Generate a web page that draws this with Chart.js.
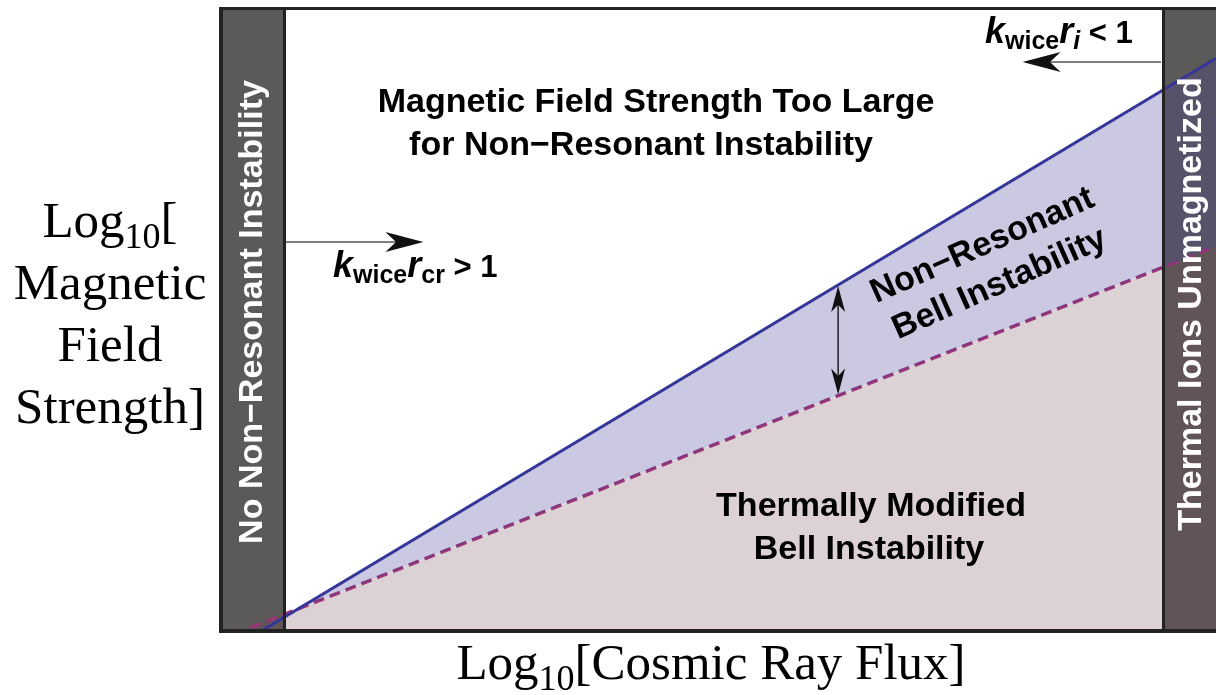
<!DOCTYPE html>
<html>
<head>
<meta charset="utf-8">
<script src="https://cdn.jsdelivr.net/npm/chart.js@4.4.1/dist/chart.umd.min.js"></script>
<style>
  html, body { margin: 0; padding: 0; background: #fff; }
  canvas { display: block; }
</style>
</head>
<body>
<canvas id="regimeChart" width="1216" height="695"></canvas>
<script>
// log10 cosmic ray flux (arbitrary units, axis ends)
const fluxEdges = [0, 10];
// log10 B at the two axis ends for each boundary
const bellLimit = [-0.39, 9.18];      // upper edge of non-resonant Bell
const thermalLimit = [-0.13, 6.17];   // thermally modified boundary
// excluded regimes along the flux axis
const leftBand = [0, 0.652];
const rightBand = [9.468, 10];

const sans = '"Liberation Sans", Arial, sans-serif';
const serif = '"Liberation Serif", "Times New Roman", serif';
const bandColor = '#5c5a58';
const frameColor = '#222222';

function drawRuns(ctx, runs, x, y, align) {
    let total = 0;
    runs.forEach(r => { ctx.font = r.f; total += ctx.measureText(r.t).width; });
    let cx = align === 'center' ? x - total / 2 : x;
    ctx.textAlign = 'left';
    ctx.textBaseline = 'alphabetic';
    runs.forEach(r => {
        ctx.font = r.f;
        ctx.fillText(r.t, cx, y + (r.dy || 0));
        cx += ctx.measureText(r.t).width;
    });
}

function arrowHead(ctx, tx, ty, dx, dy, len, half) {
    const px = -dy, py = dx;
    ctx.beginPath();
    ctx.moveTo(tx, ty);
    ctx.lineTo(tx - dx * len + px * half, ty - dy * len + py * half);
    ctx.lineTo(tx - dx * len * 0.72, ty - dy * len * 0.72);
    ctx.lineTo(tx - dx * len - px * half, ty - dy * len - py * half);
    ctx.closePath();
    ctx.fill();
}

function lineAt(arr, xv) {
    return arr[0] + (arr[1] - arr[0]) * (xv - fluxEdges[0]) / (fluxEdges[1] - fluxEdges[0]);
}

const regimePlugin = {
    id: 'regimes',
    beforeDatasetsDraw(chart) {
        const { ctx, chartArea: a, scales: { x } } = chart;
        ctx.save();
        ctx.fillStyle = bandColor;
        [leftBand, rightBand].forEach(b => {
            const x0 = x.getPixelForValue(b[0]);
            const x1 = x.getPixelForValue(b[1]);
            ctx.fillRect(x0, a.top, x1 - x0, a.bottom - a.top);
        });
        ctx.restore();
    },
    afterDatasetsDraw(chart) {
        const { ctx, chartArea: a, scales: { x, y } } = chart;
        ctx.save();

        // frame + dividers
        ctx.strokeStyle = frameColor;
        ctx.lineWidth = 3;
        [leftBand[1], rightBand[0]].forEach(v => {
            const px = Math.round(x.getPixelForValue(v)) + 0.5;
            ctx.beginPath(); ctx.moveTo(px, a.top); ctx.lineTo(px, a.bottom); ctx.stroke();
        });
        ctx.beginPath(); ctx.moveTo(a.left, a.top + 1.5); ctx.lineTo(a.right, a.top + 1.5); ctx.stroke();
        ctx.lineWidth = 4;
        ctx.beginPath(); ctx.moveTo(a.left, a.bottom - 1); ctx.lineTo(a.right, a.bottom - 1); ctx.stroke();
        ctx.beginPath(); ctx.moveTo(a.left + 2, a.top); ctx.lineTo(a.left + 2, a.bottom + 1); ctx.stroke();

        // horizontal arrows
        ctx.strokeStyle = '#555';
        ctx.fillStyle = '#111';
        ctx.lineWidth = 1.5;
        const yA = y.getPixelForValue(6.24);
        const xA0 = x.getPixelForValue(leftBand[1]) + 2, xA1 = x.getPixelForValue(2.05);
        ctx.beginPath(); ctx.moveTo(xA0, yA); ctx.lineTo(xA1 - 20, yA); ctx.stroke();
        arrowHead(ctx, xA1, yA, 1, 0, 38, 10);

        const yB = y.getPixelForValue(9.12);
        const xB0 = x.getPixelForValue(rightBand[0]) - 2, xB1 = x.getPixelForValue(8.06);
        ctx.beginPath(); ctx.moveTo(xB0, yB); ctx.lineTo(xB1 + 20, yB); ctx.stroke();
        arrowHead(ctx, xB1, yB, -1, 0, 38, 10);

        // double arrow between the two boundaries
        const xv = 6.21;
        const xD = x.getPixelForValue(xv);
        const yTop = y.getPixelForValue(lineAt(bellLimit, xv)) + 1;
        const yBot = y.getPixelForValue(lineAt(thermalLimit, xv)) - 1;
        ctx.strokeStyle = '#222';
        ctx.beginPath(); ctx.moveTo(xD, yTop + 15); ctx.lineTo(xD, yBot - 15); ctx.stroke();
        arrowHead(ctx, xD, yTop, 0, -1, 26, 7);
        arrowHead(ctx, xD, yBot, 0, 1, 26, 7);

        // region labels
        ctx.fillStyle = '#000';
        ctx.textAlign = 'center';
        ctx.textBaseline = 'middle';
        ctx.font = 'bold 34px ' + sans;
        ctx.fillText('Magnetic Field Strength Too Large', 656, 103);
        ctx.fillText('for Non\u2212Resonant Instability', 641, 146);
        ctx.fillText('Thermally Modified', 871, 507);
        ctx.fillText('Bell Instability', 869, 550);

        ctx.save();
        ctx.translate(991, 265);
        ctx.rotate(-24 * Math.PI / 180);
        ctx.fillText('Non\u2212Resonant', 0, -21);
        ctx.fillText('Bell Instability', 0, 21);
        ctx.restore();

        // band labels
        ctx.fillStyle = '#fff';
        ctx.font = 'bold 34px ' + sans;
        ctx.save();
        ctx.translate(253, 312);
        ctx.rotate(-Math.PI / 2);
        ctx.fillText('No Non\u2212Resonant Instability', 0, 0);
        ctx.restore();
        ctx.save();
        ctx.translate(1192, 304);
        ctx.rotate(-Math.PI / 2);
        ctx.fillText('Thermal Ions Unmagnetized', 0, 0);
        ctx.restore();

        // k r labels
        ctx.fillStyle = '#000';
        const big = 'italic bold 36px ' + sans;
        const sub = 'bold 25px ' + sans;
        drawRuns(ctx, [
            { t: 'k', f: big }, { t: 'wice', f: sub, dy: 6 },
            { t: 'r', f: big }, { t: 'cr', f: sub, dy: 6 },
            { t: ' > 1', f: 'bold 31px ' + sans }
        ], 333, 277, 'left');
        drawRuns(ctx, [
            { t: 'k', f: big }, { t: 'wice', f: sub, dy: 6 },
            { t: 'r', f: big }, { t: 'i', f: 'italic bold 25px ' + sans, dy: 6 },
            { t: ' < 1', f: 'bold 31px ' + sans }
        ], 985, 43, 'left');

        ctx.restore();
    },
    afterDraw(chart) {
        const ctx = chart.ctx;
        ctx.save();
        ctx.fillStyle = '#000';
        const main = '51px ' + serif;
        const small = '36px ' + serif;
        drawRuns(ctx, [{ t: 'Log', f: main }, { t: '10', f: small, dy: 11 }, { t: '[', f: main }], 110, 237, 'center');
        ctx.font = main;
        ctx.textAlign = 'center';
        ctx.textBaseline = 'alphabetic';
        ctx.fillText('Magnetic', 110, 299);
        ctx.fillText('Field', 110, 361);
        ctx.fillText('Strength]', 110, 423);
        drawRuns(ctx, [
            { t: 'Log', f: main }, { t: '10', f: small, dy: 11 },
            { t: '[Cosmic Ray Flux]', f: main }
        ], 711, 679, 'center');
        ctx.restore();
    }
};

const ctx = document.getElementById('regimeChart').getContext('2d');
new Chart(ctx, {
    type: 'line',
    data: {
        datasets: [
            {
                label: 'Non-resonant Bell limit',
                data: fluxEdges.map((v, i) => ({ x: v, y: bellLimit[i] })),
                borderColor: '#35359a',
                borderWidth: 3,
                pointRadius: 0,
                fill: { target: 1, above: 'rgba(67, 61, 152, 0.28)', below: 'rgba(0,0,0,0)' },
            },
            {
                label: 'Thermal modification limit',
                data: fluxEdges.map((v, i) => ({ x: v, y: thermalLimit[i] })),
                borderColor: '#993677',
                borderWidth: 3.5,
                borderDash: [11, 6],
                pointRadius: 0,
                fill: { target: 'origin', above: 'rgba(110, 65, 85, 0.24)', below: 'rgba(0,0,0,0)' },
            },
        ],
    },
    options: {
        responsive: false,
        animation: false,
        layout: { padding: { left: 219, right: 0, top: 7, bottom: 63 } },
        plugins: { legend: { display: false }, tooltip: { enabled: false } },
        scales: {
            x: { type: 'linear', min: 0, max: 10, display: false },
            y: { type: 'linear', min: 0, max: 10, display: false },
        },
    },
    plugins: [regimePlugin],
});
</script>
</body>
</html>
